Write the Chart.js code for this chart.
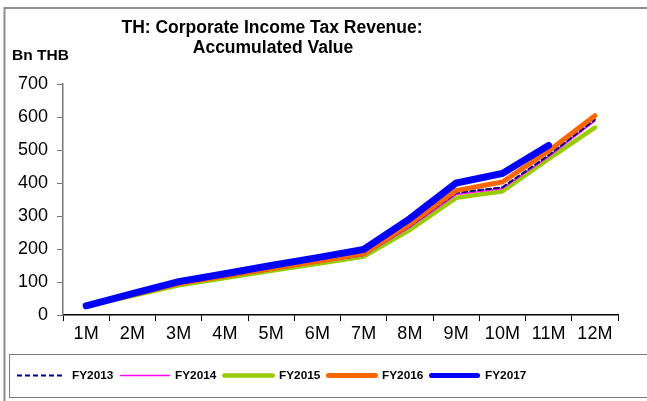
<!DOCTYPE html>
<html>
<head>
<meta charset="utf-8">
<script src="https://cdn.jsdelivr.net/npm/chart.js@4/dist/chart.umd.min.js"></script>
<style>
  html, body { margin: 0; padding: 0; background: #fff; }
  #wrap { width: 647px; height: 401px; position: relative; }
</style>
</head>
<body>
<div id="wrap"><canvas id="c" width="647" height="401"></canvas></div>
<script>
// Fiscal-year months
const months = ['1M', '2M', '3M', '4M', '5M', '6M', '7M', '8M', '9M', '10M', '11M', '12M'];

// Accumulated corporate income tax revenue, Bn THB
const fy2013 = [27, 60, 93, 115, 137, 160, 182, 270, 370, 387, 484, 592];
const fy2014 = [27, 59, 92, 114, 136, 158, 180, 266, 365, 383, 480, 588];
const fy2015 = [26, 58, 90, 112, 134, 155, 177, 258, 355, 375, 473, 568];
const fy2016 = [27, 61, 95, 118, 141, 163, 186, 276, 377, 403, 497, 604];
const fy2017 = [28, 65, 101, 125, 150, 174, 199, 292, 400, 429, 514];

const yTicks = [0, 100, 200, 300, 400, 500, 600, 700];

const FONT = '"Liberation Sans", Arial, Helvetica, sans-serif';

// Frame, headings and the line legend underneath the plot
const decorations = {
  id: 'decorations',
  afterDraw(chart) {
    const ctx = chart.ctx;
    ctx.save();

    // outer frame
    ctx.strokeStyle = '#8c8c8c';
    ctx.lineWidth = 2;
    ctx.beginPath();
    ctx.moveTo(4.5, 402);
    ctx.lineTo(4.5, 8);
    ctx.lineTo(650, 8);
    ctx.stroke();

    // title
    ctx.fillStyle = '#000';
    ctx.textAlign = 'center';
    ctx.textBaseline = 'middle';
    ctx.font = 'bold 17.5px ' + FONT;
    ctx.fillText('TH: Corporate Income Tax Revenue:', 272, 28);
    ctx.fillText('Accumulated Value', 273, 48);

    // unit label
    ctx.textAlign = 'left';
    ctx.font = 'bold 15.5px ' + FONT;
    ctx.fillText('Bn THB', 12, 56);

    // legend box
    ctx.strokeStyle = '#7a7a7a';
    ctx.lineWidth = 1;
    ctx.strokeRect(9.5, 354.5, 660, 43);

    // legend entries: sample line span and label position
    const lineFrom = [17, 120, 222, 326, 429];
    const lineTo = [63, 170, 275, 378, 480];
    const textX = [72, 175, 279, 382, 485];
    const ly = 375.5;
    ctx.font = 'bold 11.8px ' + FONT;
    chart.data.datasets.forEach((ds, i) => {
      const dashed = !!ds.borderDash;
      const w = Math.min(ds.borderWidth, 5);
      const inset = dashed ? 0 : w / 2;
      ctx.save();
      ctx.strokeStyle = ds.borderColor;
      ctx.lineWidth = w;
      ctx.setLineDash(ds.borderDash || []);
      ctx.lineCap = dashed ? 'butt' : 'round';
      ctx.beginPath();
      ctx.moveTo(lineFrom[i] + inset, ly);
      ctx.lineTo(lineTo[i] - inset, ly);
      ctx.stroke();
      ctx.restore();
      ctx.fillStyle = '#000';
      ctx.textAlign = 'left';
      ctx.textBaseline = 'middle';
      ctx.fillText(ds.label, textX[i], ly);
    });

    ctx.restore();
  }
};

new Chart(document.getElementById('c'), {
  type: 'line',
  data: {
    labels: months,
    datasets: [
      { label: 'FY2013', data: fy2013, borderColor: '#000080', borderWidth: 2, borderDash: [5, 3], order: 2 },
      { label: 'FY2014', data: fy2014, borderColor: '#ff00ff', borderWidth: 1.5, order: 3 },
      { label: 'FY2015', data: fy2015, borderColor: '#99cc00', borderWidth: 4.5, order: 4 },
      { label: 'FY2016', data: fy2016, borderColor: '#ff6600', borderWidth: 5, order: 1 },
      { label: 'FY2017', data: fy2017, borderColor: '#0000ff', borderWidth: 7, order: 0 }
    ]
  },
  options: {
    responsive: false,
    animation: false,
    devicePixelRatio: 1,
    layout: { padding: { left: 8, right: 29, top: 84, bottom: 56 } },
    elements: {
      line: { tension: 0, fill: false, borderCapStyle: 'round', borderJoinStyle: 'miter' },
      point: { radius: 0, hoverRadius: 0 }
    },
    plugins: {
      legend: { display: false },
      title: { display: false },
      tooltip: { enabled: false }
    },
    scales: {
      x: {
        type: 'category',
        offset: true,
        grid: { display: true, offset: true, drawOnChartArea: false, drawTicks: true, tickLength: 6, color: '#000' },
        border: { display: true, color: '#000', width: 1.5 },
        ticks: { color: '#000', font: { family: FONT, size: 18 }, padding: 2, maxRotation: 0, autoSkip: false },
        afterFit(s) { s.height = 30; }
      },
      y: {
        min: 0,
        max: 700,
        afterBuildTicks(s) { s.ticks = yTicks.map(v => ({ value: v })); },
        grid: { display: true, drawOnChartArea: false, drawTicks: true, tickLength: 6, color: '#777' },
        border: { display: true, color: '#777', width: 1.5 },
        ticks: { color: '#000', font: { family: FONT, size: 18 }, padding: 9 },
        afterFit(s) { s.width = 55; }
      }
    }
  },
  plugins: [decorations]
});
</script>
</body>
</html>
